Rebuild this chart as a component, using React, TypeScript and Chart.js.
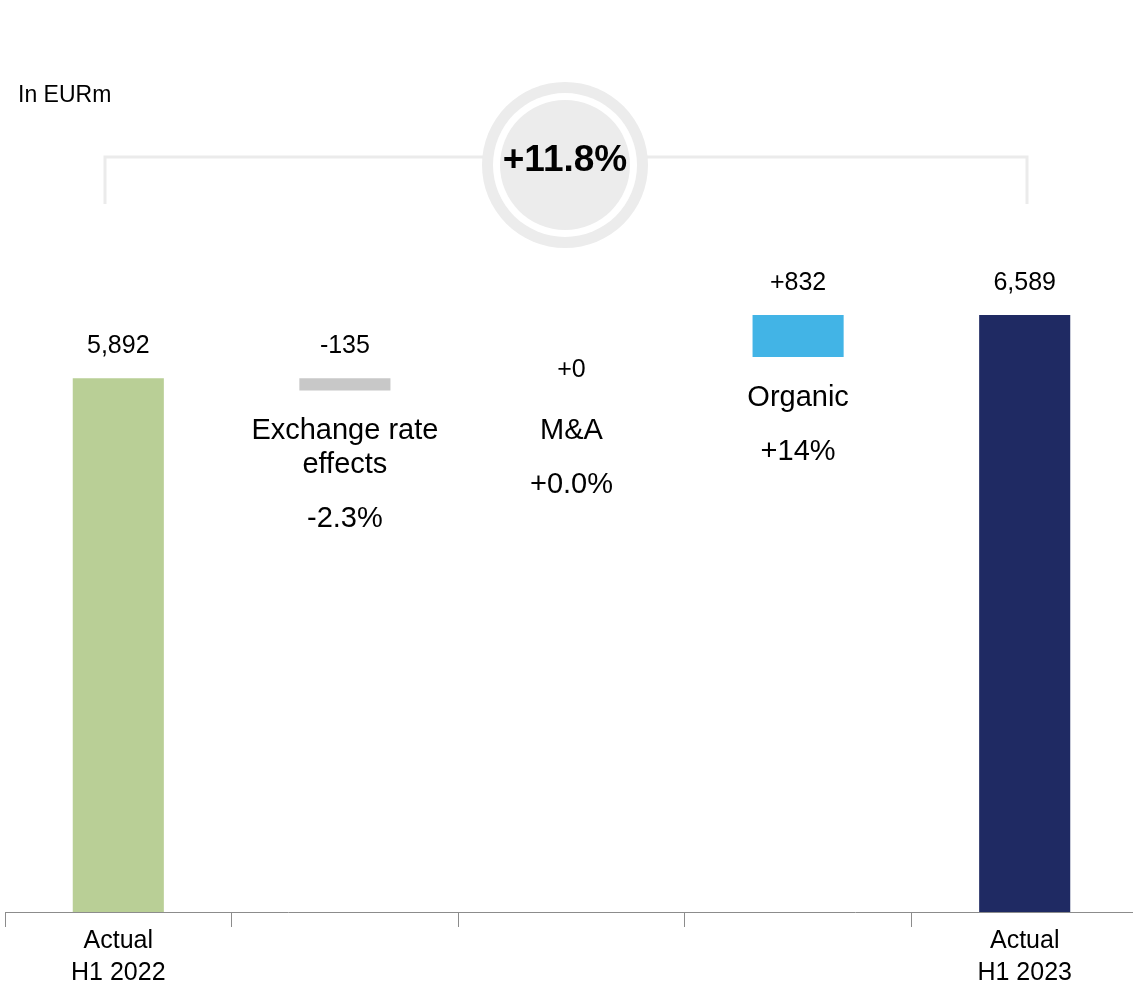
import { useEffect, useRef } from "react";
import { Chart, registerables } from "chart.js";

Chart.register(...registerables);

const categories = ["Actual H1 2022", "Exchange rate effects", "M&A", "Organic", "Actual H1 2023"];
const tickLabels: (string | string[])[] = [["Actual", "H1 2022"], "", "", "", ["Actual", "H1 2023"]];
const barStart = [0, 5757, 5757, 6125, 0];
const barEnd = [5892, 5892, 5757, 6589, 6589];
const valueLabels = ["5,892", "-135", "+0", "+832", "6,589"];
const stepNames: string[][] = [[], ["Exchange rate", "effects"], ["M&A"], ["Organic"], []];
const shareLabels = ["", "-2.3%", "+0.0%", "+14%", ""];
const barColors = ["#b9cf96", "#c8c8c8", "#c8c8c8", "#42b4e6", "#1f2a63"];
const unitLabel = "In EURm";
const totalGrowth = "+11.8%";

const FONT = "'Liberation Sans', Arial, Helvetica, sans-serif";

const overlay = {
  id: "overlay",
  afterDatasetsDraw(chart: any) {
    const ctx = chart.ctx as CanvasRenderingContext2D;
    const meta = chart.getDatasetMeta(0);
    ctx.save();
    ctx.fillStyle = "#000";
    ctx.textAlign = "center";
    ctx.textBaseline = "middle";
    meta.data.forEach((el: any, i: number) => {
      const top = Math.min(el.y, el.base);
      const bottom = Math.max(el.y, el.base);
      const flat = bottom - top < 1;
      ctx.font = `25px ${FONT}`;
      ctx.fillText(valueLabels[i], el.x, top - (flat ? 20 : 32));
      ctx.font = `29px ${FONT}`;
      const y0 = bottom + 41;
      const names = stepNames[i];
      names.forEach((line, j) => ctx.fillText(line, el.x, y0 + j * 34));
      if (shareLabels[i]) {
        ctx.fillText(shareLabels[i], el.x, y0 + (names.length - 1) * 34 + 54);
      }
    });

    // unit label
    ctx.textAlign = "left";
    ctx.font = `23px ${FONT}`;
    ctx.fillText(unitLabel, 18, 96);

    // bracket
    ctx.strokeStyle = "#ebebeb";
    ctx.lineWidth = 3;
    ctx.beginPath();
    ctx.moveTo(105, 204);
    ctx.lineTo(105, 157);
    ctx.lineTo(1027, 157);
    ctx.lineTo(1027, 204);
    ctx.stroke();

    // circle badge
    const cx = 565, cy = 165;
    ctx.fillStyle = "#ececec";
    ctx.beginPath();
    ctx.arc(cx, cy, 83, 0, Math.PI * 2);
    ctx.fill();
    ctx.fillStyle = "#ffffff";
    ctx.beginPath();
    ctx.arc(cx, cy, 72, 0, Math.PI * 2);
    ctx.fill();
    ctx.fillStyle = "#ececec";
    ctx.beginPath();
    ctx.arc(cx, cy, 65, 0, Math.PI * 2);
    ctx.fill();
    ctx.fillStyle = "#000";
    ctx.textAlign = "center";
    ctx.font = `bold 37px ${FONT}`;
    ctx.fillText(totalGrowth, cx, 161);
    ctx.restore();
  },
};

export default function App() {
  const ref = useRef<HTMLCanvasElement | null>(null);
  useEffect(() => {
    if (!ref.current) return;
    const chart = new Chart(ref.current, {
      type: "bar",
      data: {
        labels: tickLabels as any,
        datasets: [
          {
            label: "EURm",
            data: categories.map((_, i) => [barStart[i], barEnd[i]]) as any,
            backgroundColor: barColors,
            borderWidth: 0,
            categoryPercentage: 1,
            barPercentage: 0.402,
          },
        ],
      },
      options: {
        responsive: false,
        animation: false,
        devicePixelRatio: 1,
        layout: { padding: { top: 6, left: 5, right: 0, bottom: 0 } },
        plugins: { legend: { display: false }, tooltip: { enabled: false } },
        scales: {
          x: {
            type: "category",
            offset: true,
            grid: {
              offset: true,
              drawOnChartArea: false,
              drawTicks: true,
              tickLength: 15,
              color: "#8c8c8c",
              lineWidth: 1,
            },
            border: { display: true, color: "#8c8c8c", width: 1 },
            ticks: {
              color: "#000",
              font: { family: FONT, size: 25, lineHeight: 1.28 },
              padding: -2,
              maxRotation: 0,
              autoSkip: false,
            },
            afterFit(scale: any) {
              scale.height = 75;
            },
          },
          y: { display: false, min: 0, max: 10000 },
        },
      },
      plugins: [overlay],
    });
    return () => chart.destroy();
  }, []);
  return (
    <div style={{ position: "absolute", left: 0, top: 0, width: 1133, height: 987, overflow: "hidden", background: "#fff" }}>
      <canvas ref={ref} width={1138} height={987} style={{ display: "block" }} />
    </div>
  );
}
